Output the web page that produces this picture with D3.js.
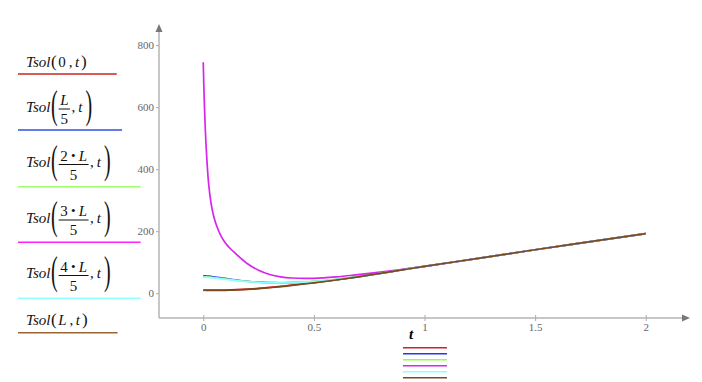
<!DOCTYPE html>
<html>
<head>
<meta charset="utf-8">
<script src="https://cdn.jsdelivr.net/npm/d3@7"></script>
<style>
  body { margin: 0; background: #fff; }
  svg { display: block; }
</style>
</head>
<body>
<div id="chart-area"><svg></svg></div>
<script>
const chartSize = { width: 702, height: 382 };
const serifFont = "'Liberation Serif', 'Times New Roman', 'DejaVu Serif', serif";

const tValues = [0, 0.003, 0.008, 0.014, 0.024, 0.035, 0.045, 0.06, 0.08, 0.1, 0.125, 0.15,
  0.2, 0.25, 0.3, 0.35, 0.4, 0.5, 0.6, 0.7, 0.8, 0.9, 1, 1.25, 1.5, 1.75, 2];

const tsol0 = [10, 10, 10, 10, 10, 10, 10, 10, 10, 10.2, 10.6, 11.2,
  13, 15.5, 18.5, 22, 26, 34, 43, 53, 64, 75.5, 86.5, 113, 140, 166, 192];
const tsolL5 = [56, 56, 55.8, 55.5, 55, 54, 53, 51.5, 49.5, 47.5, 45, 42.5,
  38.5, 35.5, 34, 33.7, 34, 37, 43.5, 52.5, 63.5, 75.5, 86.5, 113, 140, 166, 192];
const tsol2L5 = [52.5, 52.5, 52.4, 52.2, 51.8, 51, 50.2, 49, 47.3, 45.5, 43.3, 41,
  37.7, 35.2, 34.2, 34, 34.6, 37.8, 44.3, 53.3, 64.2, 75.7, 86.5, 113, 140, 166, 192];
const tsol3L5 = [745, 660, 553, 460, 355.5, 291, 254.5, 218, 185, 162, 141.6, 125.5,
  95, 74, 60.3, 52.6, 49, 48, 52.5, 60, 68, 77, 86.5, 113, 140, 166, 192];
const tsol4L5 = [52, 52, 51.9, 51.7, 51.3, 50.5, 49.7, 48.5, 46.8, 45, 42.8, 40.5,
  37.2, 34.8, 33.8, 33.6, 34.2, 37.5, 44, 53, 64, 75.6, 86.5, 113, 140, 166, 192];
const tsolL = [9.4, 9.4, 9.4, 9.3, 9.3, 9.2, 9.1, 9, 9, 9.2, 9.6, 10.3,
  12, 14.5, 17.5, 21, 25, 33.3, 42.5, 52.5, 63.7, 75.3, 86.5, 113, 140, 166, 192];

const xTicks = [0, 0.5, 1, 1.5, 2];
const yTicks = [0, 200, 400, 600, 800];
const xLabels = ["0", "0.5", "1", "1.5", "2"];

const seriesList = [
  { values: tsol0, color: "#d42020" },
  { values: tsolL5, color: "#2436f0" },
  { values: tsol2L5, color: "#90ff50" },
  { values: tsol3L5, color: "#d824ee" },
  { values: tsol4L5, color: "#8cffff" },
  { values: tsolL, color: "#7a4a1e" }
];

// legend: arg is either plain text or a fraction {num, den}
const legendArgs = [
  { plain: "0" },
  { num: ["L"], den: "5" },
  { num: ["2", "L"], den: "5" },
  { num: ["3", "L"], den: "5" },
  { num: ["4", "L"], den: "5" },
  { plain: "L" }
];
const legendColors = ["#cc2222", "#3050e0", "#a0ff70", "#ff20ff", "#90ffff", "#996633"];

const svg = d3.select("#chart-area svg")
  .attr("width", chartSize.width)
  .attr("height", chartSize.height);

const x = d3.scaleLinear().domain([-0.2, 2.2]).range([159, 690]);
const y = d3.scaleLinear().domain([-80, 868]).range([318, 24]);

// axes
const xAxis = d3.axisBottom(x).tickValues(xTicks).tickFormat((d, i) => xLabels[i]).tickSize(3);
const gx = svg.append("g").attr("transform", `translate(0,${y(-80)})`).call(xAxis)
  .attr("font-family", serifFont).attr("font-size", 11);
gx.select(".domain").remove();
gx.selectAll(".tick line").attr("y1", -3).attr("y2", 3).attr("stroke", "#aaa");
gx.selectAll(".tick text").attr("dy", "0.71em").attr("y", 5).attr("fill", "#666");

const yAxis = d3.axisLeft(y).tickValues(yTicks).tickSize(3).tickPadding(2);
const gy = svg.append("g").attr("transform", `translate(${x(-0.2)},0)`).call(yAxis)
  .attr("font-family", serifFont).attr("font-size", 11);
gy.select(".domain").remove();
gy.selectAll(".tick line").attr("stroke", "#aaa");
gy.selectAll(".tick text").attr("fill", "#666");

svg.append("line")
  .attr("x1", x(-0.2)).attr("x2", x(2.2) - 4)
  .attr("y1", y(-80)).attr("y2", y(-80))
  .attr("stroke", "#b4b4b4").attr("stroke-width", 1.5);
svg.append("line")
  .attr("x1", x(-0.2)).attr("x2", x(-0.2))
  .attr("y1", y(-80)).attr("y2", y(868) + 4)
  .attr("stroke", "#b4b4b4").attr("stroke-width", 1.5);

const ax = x(2.2), ay = y(-80);
svg.append("path")
  .attr("d", `M${ax},${ay} L${ax - 8},${ay - 3.5} L${ax - 8},${ay + 3.5} Z`)
  .attr("fill", "#777");
const tx = x(-0.2), ty = y(868);
svg.append("path")
  .attr("d", `M${tx},${ty} L${tx - 3.5},${ty + 8} L${tx + 3.5},${ty + 8} Z`)
  .attr("fill", "#777");

// curves
const line = values => d3.line()
  .x((d, i) => x(tValues[i]))
  .y(d => y(d))
  .curve(d3.curveCatmullRom.alpha(0.5))(values);

seriesList.forEach(s => {
  svg.append("path")
    .attr("d", line(s.values))
    .attr("fill", "none")
    .attr("stroke", s.color)
    .attr("stroke-width", 1.7);
});

// x title and small legend
svg.append("text")
  .attr("x", 409).attr("y", 339)
  .attr("font-family", serifFont)
  .attr("font-style", "italic")
  .attr("font-weight", "bold")
  .attr("font-size", 15)
  .text("t");

seriesList.forEach((s, i) => {
  svg.append("line")
    .attr("x1", 403).attr("x2", 447)
    .attr("y1", 347.7 + i * 6).attr("y2", 347.7 + i * 6)
    .attr("stroke", s.color).attr("stroke-width", 1.5);
});

// left legend
const baselines = [67, 111.5, 167, 222.5, 278, 325];
const lineYs = [74, 130, 186.7, 242.3, 298.3, 332.7];
const fs = 15;

const addText = (g, str, px, py, opts = {}) => {
  const t = g.append("text")
    .attr("font-family", serifFont)
    .attr("font-size", opts.size || fs)
    .attr("fill", "#111")
    .attr("x", px).attr("y", py)
    .attr("font-style", opts.italic ? "italic" : "normal")
    .text(str);
  return t;
};
const w = t => t.node().getComputedTextLength();

legendArgs.forEach((arg, i) => {
  const g = svg.append("g").attr("transform", `translate(25,${baselines[i]})`);
  let cx = 1;
  cx += w(addText(g, "Tsol", cx, 0, { italic: true })) + 0.5;
  if (arg.plain !== undefined) {
    cx += w(addText(g, "(", cx, 0, { size: 17 })) + 1.5;
    cx += w(addText(g, arg.plain, cx, 0, { italic: arg.plain === "L" })) + 3;
    cx += w(addText(g, ",", cx, 0)) + 2.5;
    cx += w(addText(g, "t", cx, 0, { italic: true })) + 2;
    cx += w(addText(g, ")", cx, 0, { size: 17 }));
  } else {
    const paren = addText(g, "(", 0, 0, { size: 20 });
    paren.attr("transform", `translate(${cx},6) scale(1,2.05)`);
    cx += w(paren) + 1;
    // numerator
    const ng = g.append("text")
      .attr("font-family", serifFont).attr("font-size", fs).attr("fill", "#111")
      .attr("y", -6.5);
    if (arg.num.length === 1) {
      ng.append("tspan").attr("font-style", "italic").text(arg.num[0]);
    } else {
      ng.append("tspan").text(arg.num[0]);
      ng.append("tspan").attr("font-size", 13).attr("dy", -1).text(" \u2022 ");
      ng.append("tspan").attr("font-style", "italic").attr("dy", 1).text(arg.num[1]);
    }
    const nw = w(ng);
    const bw = nw + 3;
    ng.attr("x", cx + (bw - nw) / 2);
    g.append("line")
      .attr("x1", cx).attr("x2", cx + bw)
      .attr("y1", -2.5).attr("y2", -2.5)
      .attr("stroke", "#111").attr("stroke-width", 1);
    const dt = addText(g, arg.den, 0, 12.5);
    dt.attr("x", cx + bw / 2).attr("text-anchor", "middle");
    cx += bw + 1.5;
    cx += w(addText(g, ",", cx, 0)) + 3;
    cx += w(addText(g, "t", cx, 0, { italic: true })) + 3;
    const rp = addText(g, ")", 0, 0, { size: 20 });
    rp.attr("transform", `translate(${cx},6) scale(1,2.05)`);
    cx += w(rp);
  }
  svg.append("line")
    .attr("x1", 18).attr("x2", 25 + cx + 30)
    .attr("y1", lineYs[i]).attr("y2", lineYs[i])
    .attr("stroke", legendColors[i]).attr("stroke-width", 1.5);
});
</script>
</body>
</html>
